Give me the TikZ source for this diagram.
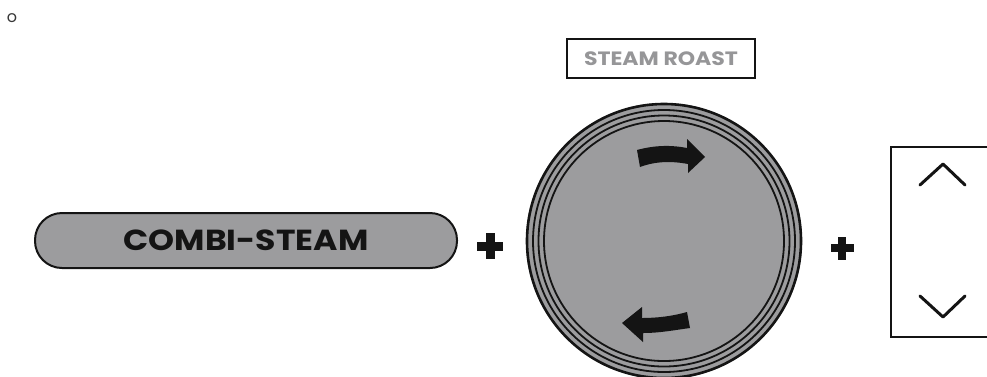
\documentclass[tikz,border=0pt]{standalone}
\usepackage{fontspec}
\usetikzlibrary{calc}
\newfontfamily\pop{Poppins}
\newfontfamily\popw{Poppins}[FakeStretch=1.14]
\definecolor{knob}{RGB}{156,156,158}
\definecolor{ink}{RGB}{20,20,20}
\definecolor{lbl}{RGB}{150,150,152}
\begin{document}
\begin{tikzpicture}[x=1pt,y=-1pt,
  pill/.style={draw=ink,line width=2pt,fill=knob,rounded corners=27pt,minimum width=422pt,minimum height=55pt,inner sep=0pt},
  tagbox/.style={draw=ink,line width=2pt,fill=white,minimum width=188pt,minimum height=39pt,inner sep=0pt},
  ring/.style={draw=ink,line width=1.8pt},
  plusbar/.style={fill=ink},
  chev/.style={draw=ink,line width=3pt,line cap=round,line join=round}]
\path[use as bounding box] (0,0) rectangle (987,376);
% degree mark
\node[text=ink!85,font=\pop\fontsize{16}{16}\selectfont,inner sep=0pt] (deg) at (12,18.5) {o};
% steam roast label
\node[tagbox] (tag) at (661,58.5) {};
\node[text=lbl,font=\popw\bfseries\fontsize{19.3}{19.3}\selectfont] (tagtext) at (tag.center) {STEAM ROAST};
% combi-steam pill
\node[pill] (combi) at (246,240.5) {};
\node[text=ink,font=\popw\bfseries\fontsize{29}{29}\selectfont] (combitext) at (combi.center) {COMBI-STEAM};
% plus 1
\coordinate (p1) at (490,246);
\fill[plusbar] ($(p1)+(-13,-4.5)$) rectangle ($(p1)+(13,4.5)$);
\fill[plusbar] ($(p1)+(-4.5,-13)$) rectangle ($(p1)+(4.5,13)$);
% dial
\coordinate (dc) at (664,241);
\fill[knob] (dc) circle (138);
\draw[ring,line width=2.6pt] (dc) circle (137);
\draw[ring] (dc) circle (131);
\draw[ring] (dc) circle (125.5);
\draw[ring] (dc) circle (120);
% top arrow
\fill[ink] (637,150) .. controls (655,145) and (672,145) .. (687,148)
  -- (687,139) -- (705,157) -- (688,173) -- (688,164)
  .. controls (672,161) and (656,161) .. (640,167) -- cycle;
% bottom arrow
\fill[ink] (690,328) .. controls (675,330) and (660,333) .. (643,333)
  -- (643,342) -- (622,323) -- (642,307) -- (642,318)
  .. controls (658,318) and (673,316) .. (687,312) -- cycle;
% plus 2
\coordinate (p2) at (842,248);
\fill[plusbar] ($(p2)+(-11.5,-4)$) rectangle ($(p2)+(11.5,4)$);
\fill[plusbar] ($(p2)+(-4,-11.5)$) rectangle ($(p2)+(4,11.5)$);
% right box
\draw[draw=ink,line width=2pt] (1000,147) -- (891,147) -- (891,337) -- (1000,337);
\coordinate (u1) at (920,185); \coordinate (u2) at (943,164); \coordinate (u3) at (965,185);
\draw[chev] (u1) -- (u2) -- (u3);
\coordinate (d1) at (920,296); \coordinate (d2) at (943,317); \coordinate (d3) at (965,296);
\draw[chev] (d1) -- (d2) -- (d3);
\end{tikzpicture}
\end{document}
